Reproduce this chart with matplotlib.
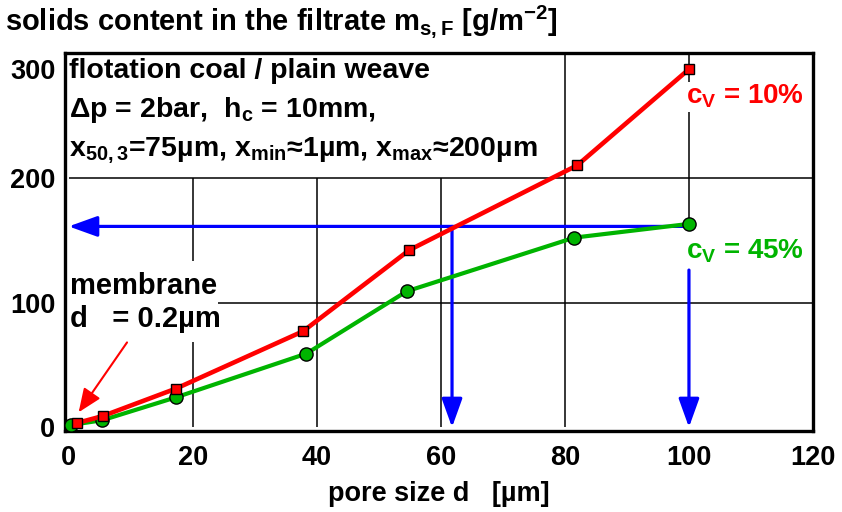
import matplotlib
matplotlib.use("Agg")
import matplotlib.pyplot as plt
from matplotlib.transforms import ScaledTranslation

# --- data ---
d_cv10 = [1.4, 5.5, 17.3, 37.8, 54.9, 82.0, 100.0]
m_cv10 = [3.5, 9.0, 31.0, 77.0, 142.0, 210.0, 287.0]
d_cv45 = [0.3, 5.4, 17.3, 38.3, 54.5, 81.5, 100.0]
m_cv45 = [1.8, 5.6, 24.0, 59.0, 109.0, 152.0, 163.0]

x_ticks = [0, 20, 40, 60, 80, 100, 120]
y_ticks = [0, 100, 200, 300]

m_read = 161.0        # blue read-off level
d_read = [61.8, 100.0]  # blue read-off pore sizes

plt.rcParams['font.family'] = ['Liberation Sans', 'DejaVu Sans']
plt.rcParams['font.weight'] = 'bold'
plt.rcParams['mathtext.fontset'] = 'custom'
plt.rcParams['mathtext.rm'] = 'Liberation Sans:bold'
plt.rcParams['mathtext.it'] = 'Liberation Sans:bold'
plt.rcParams['mathtext.bf'] = 'Liberation Sans:bold'

RED, GREEN, BLUE = '#ff0000', '#00b400', '#0000ff'

fig = plt.figure(figsize=(8.42, 5.12), dpi=100)
ax = fig.add_axes([65 / 842, 1 - 431 / 512, 748 / 842, 378 / 512])
ax.set_xlim(-0.6, 119.6)
ax.set_ylim(-3, 300)

# grid drawn as partial segments (text blocks sit on top of it)
gkw = dict(color='black', lw=1.1, zorder=1)
ax.vlines(20, 0, 68, **gkw)
ax.vlines(20, 133, 200, **gkw)
ax.vlines([40, 60], 0, 200, **gkw)
ax.vlines(80, 0, 300, **gkw)
ax.vlines(100, m_cv45[-1], 300, **gkw)
ax.hlines(200, 0, 120, **gkw)
ax.hlines(100, 24, 120, **gkw)

# blue read-off arrows
akw = dict(arrowstyle='-|>,head_length=1.25,head_width=0.45', color=BLUE, lw=2.3,
           shrinkA=0, shrinkB=0, mutation_scale=14)
ax.annotate('', xy=(0, m_read), xytext=(d_read[1], m_read), arrowprops=akw, zorder=3)
ax.annotate('', xy=(d_read[0], 0), xytext=(d_read[0], m_read), arrowprops=akw, zorder=3)
ax.annotate('', xy=(d_read[1], 0), xytext=(d_read[1], 126), arrowprops=akw, zorder=3)

ax.plot(d_cv10, m_cv10, color=RED, lw=3.3, marker='s', ms=7, mfc=RED, mec='black',
        mew=1.0, zorder=5)
ax.plot(d_cv45, m_cv45, color=GREEN, lw=3.0, marker='o', ms=9.5, mfc=GREEN, mec='black',
        mew=1.0, zorder=4)

# membrane arrow
ax.annotate('', xy=(1.6, 12), xytext=(9.4, 68),
            arrowprops=dict(arrowstyle='-|>,head_length=1.2,head_width=0.5', color=RED,
                            lw=1.5, shrinkA=0, shrinkB=0, mutation_scale=12), zorder=6)

ax.text(0.0, 296, 'flotation coal / plain weave\n'
        r'$\Delta$p = 2bar,  h$_\mathrm{c}$ = 10mm,' '\n'
        r'x$_\mathrm{50,3}$=75µm, x$_\mathrm{min}$≈1µm, x$_\mathrm{max}$≈200µm',
        fontsize=20.5, va='top', ha='left', linespacing=1.5, zorder=7)
ax.text(0.2, 100, 'membrane\nd   = 0.2µm', fontsize=21, va='center', ha='left',
        linespacing=1.2, zorder=7)
ax.text(99.5, 265, r'c$_\mathrm{V}$ = 10%', color=RED, fontsize=20, va='center', ha='left',
        zorder=7, bbox=dict(facecolor='white', edgecolor='none', pad=1))
ax.text(99.5, 141, r'c$_\mathrm{V}$ = 45%', color=GREEN, fontsize=20, va='center', ha='left',
        zorder=7, bbox=dict(facecolor='white', edgecolor='none', pad=1))

ax.set_xticks(x_ticks)
ax.set_yticks(y_ticks)
ax.tick_params(length=0, labelsize=19.5)
ax.tick_params(axis='x', pad=10)
ax.tick_params(axis='y', pad=7)
for s in ax.spines.values():
    s.set_linewidth(2.4)
# top y label sits a little lower in the original
top_lab = ax.get_yticklabels()[-1]
top_lab.set_transform(top_lab.get_transform() + ScaledTranslation(0, -0.16, fig.dpi_scale_trans))

fig.text(5 / 842, 1 - 22 / 512, r'solids content in the filtrate m$_\mathrm{s,F}$ [g/m$^\mathrm{-2}$]',
         fontsize=21, va='center', ha='left')
ax.set_xlabel('pore size d   [µm]', fontsize=19.5, fontweight='bold', labelpad=7)

fig.savefig('out.png', dpi=100)
